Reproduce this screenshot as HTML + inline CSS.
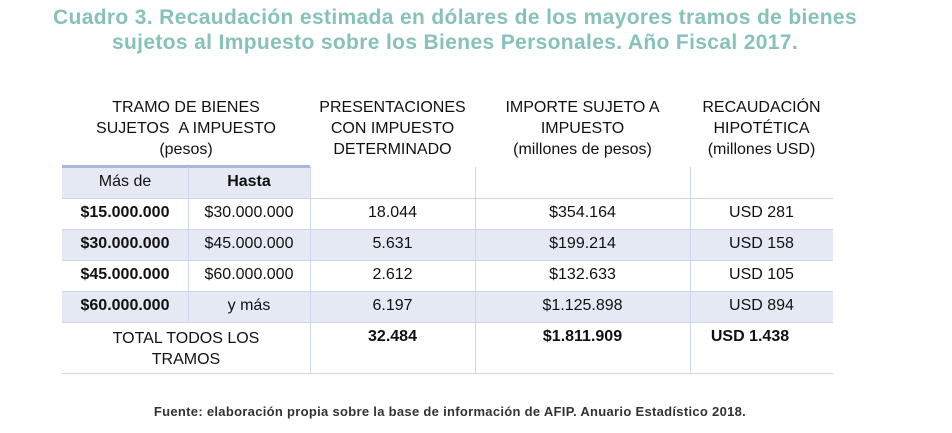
<!DOCTYPE html>
<html><head><meta charset="utf-8"><style>
body{margin:0;width:952px;height:433px;background:#fff;position:relative;overflow:hidden;font-family:"Liberation Sans",sans-serif;}
.t{position:absolute;white-space:nowrap;}
.title{left:0;width:910px;text-align:center;color:#86c2ba;font-size:21px;font-weight:bold;letter-spacing:0.35px;}
.c{position:absolute;text-align:center;font-size:16px;color:#111;white-space:nowrap;}
.h{line-height:21px;}
.b{font-weight:bold;}
.band{position:absolute;background:#e5e9f4;}
.hl{position:absolute;height:1px;background:#cfd6ea;}
.vl{position:absolute;width:1px;background:#cfd6ea;}
</style></head><body>
<div class="t title" style="top:6px">Cuadro 3. Recaudación estimada en dólares de los mayores tramos de bienes</div>
<div class="t title" style="top:31px">sujetos al Impuesto sobre los Bienes Personales. Año Fiscal 2017.</div>

<div class="band" style="left:62px;top:167px;width:248px;height:31px"></div>
<div class="band" style="left:62px;top:229px;width:771px;height:31px"></div>
<div class="band" style="left:62px;top:291px;width:771px;height:31px"></div>
<div style="position:absolute;left:62px;top:165px;width:248px;height:3px;background:#a9b7dc"></div>

<div class="hl" style="left:62px;top:198px;width:771px"></div>
<div class="hl" style="left:62px;top:229px;width:771px"></div>
<div class="hl" style="left:62px;top:260px;width:771px"></div>
<div class="hl" style="left:62px;top:291px;width:771px"></div>
<div class="hl" style="left:62px;top:322px;width:771px"></div>
<div class="hl" style="left:62px;top:373px;width:771px"></div>
<div class="vl" style="left:188px;top:167px;height:155px"></div>
<div class="vl" style="left:310px;top:167px;height:206px"></div>
<div class="vl" style="left:475px;top:167px;height:206px"></div>
<div class="vl" style="left:690px;top:167px;height:206px"></div>

<div class="c h" style="left:62px;width:248px;top:97px">TRAMO DE BIENES<br>SUJETOS &nbsp;A IMPUESTO<br>(pesos)</div>
<div class="c h" style="left:310px;width:165px;top:97px">PRESENTACIONES<br>CON IMPUESTO<br>DETERMINADO</div>
<div class="c h" style="left:475px;width:215px;top:97px">IMPORTE SUJETO A<br>IMPUESTO<br>(millones de pesos)</div>
<div class="c h" style="left:690px;width:143px;top:97px">RECAUDACIÓN<br>HIPOTÉTICA<br>(millones USD)</div>

<div class="c" style="left:62px;width:126px;top:173px">Más de</div>
<div class="c b" style="left:188px;width:122px;top:173px">Hasta</div>

<div class="c b" style="left:62px;width:126px;top:204px">$15.000.000</div>
<div class="c" style="left:188px;width:122px;top:204px">$30.000.000</div>
<div class="c" style="left:310px;width:165px;top:204px">18.044</div>
<div class="c" style="left:475px;width:215px;top:204px">$354.164</div>
<div class="c" style="left:690px;width:143px;top:204px">USD 281</div>

<div class="c b" style="left:62px;width:126px;top:235px">$30.000.000</div>
<div class="c" style="left:188px;width:122px;top:235px">$45.000.000</div>
<div class="c" style="left:310px;width:165px;top:235px">5.631</div>
<div class="c" style="left:475px;width:215px;top:235px">$199.214</div>
<div class="c" style="left:690px;width:143px;top:235px">USD 158</div>

<div class="c b" style="left:62px;width:126px;top:266px">$45.000.000</div>
<div class="c" style="left:188px;width:122px;top:266px">$60.000.000</div>
<div class="c" style="left:310px;width:165px;top:266px">2.612</div>
<div class="c" style="left:475px;width:215px;top:266px">$132.633</div>
<div class="c" style="left:690px;width:143px;top:266px">USD 105</div>

<div class="c b" style="left:62px;width:126px;top:297px">$60.000.000</div>
<div class="c" style="left:188px;width:122px;top:297px">y más</div>
<div class="c" style="left:310px;width:165px;top:297px">6.197</div>
<div class="c" style="left:475px;width:215px;top:297px">$1.125.898</div>
<div class="c" style="left:690px;width:143px;top:297px">USD 894</div>

<div class="c h" style="left:62px;width:248px;top:328px">TOTAL TODOS LOS<br>TRAMOS</div>
<div class="c b" style="left:310px;width:165px;top:328px">32.484</div>
<div class="c b" style="left:475px;width:215px;top:328px">$1.811.909</div>
<div class="c b" style="left:690px;width:120px;top:328px">USD 1.438</div>

<div class="t" style="left:0;width:900px;text-align:center;top:404px;font-size:13px;font-weight:bold;color:#333;letter-spacing:0.3px">Fuente: elaboración propia sobre la base de información de AFIP. Anuario Estadístico 2018.</div>
</body></html>
